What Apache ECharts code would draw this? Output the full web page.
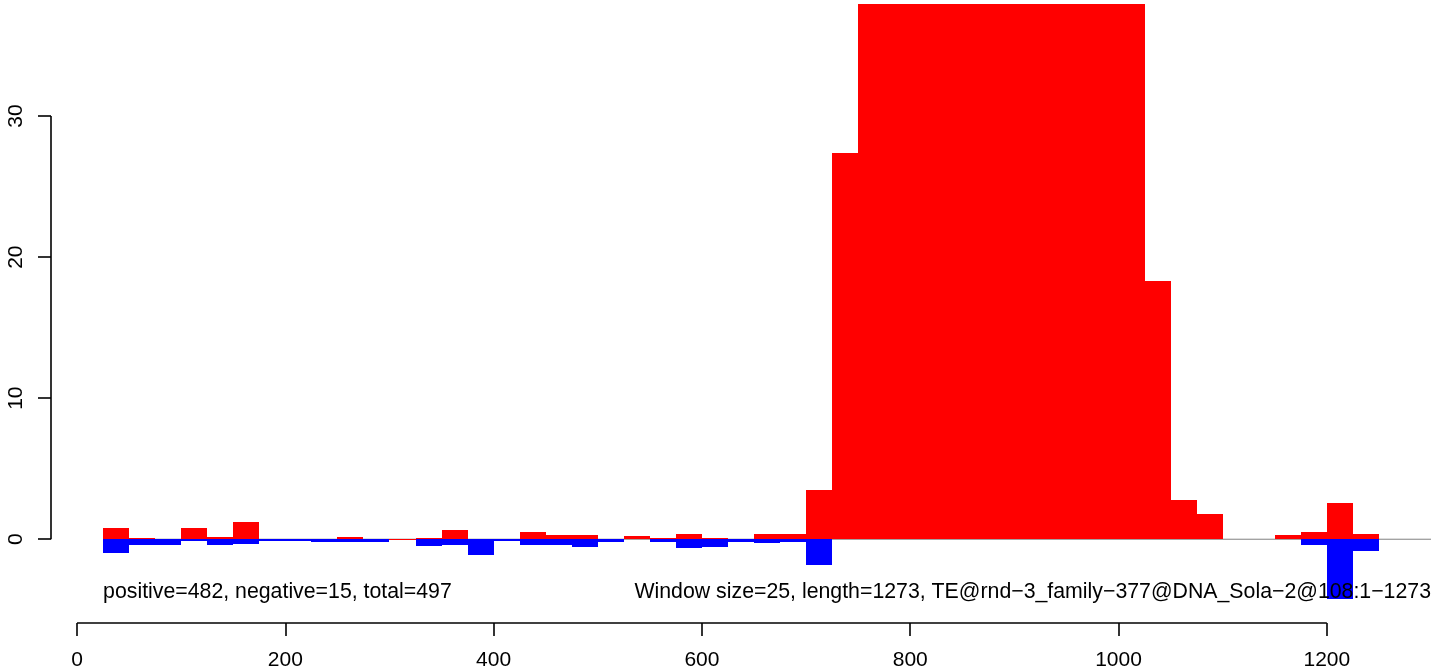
<!DOCTYPE html>
<html><head><meta charset="utf-8">
<script src="https://cdn.jsdelivr.net/npm/echarts@6/dist/echarts.min.js"></script>
<style>html,body{margin:0;padding:0;background:#fff;overflow:hidden}#c{width:1444px;height:671px}</style>
</head><body><div id="c"></div>
<script>
// window start positions (window size = 25)
const windowStarts = [25,50,75,100,125,150,175,200,225,250,275,300,325,350,375,400,425,450,475,500,
  525,550,575,600,625,650,675,700,725,750,775,800,825,850,875,900,925,950,975,1000,
  1025,1050,1075,1100,1125,1150,1175,1200,1225];
// positive-strand coverage (red); values above ~38 are clipped in the picture (estimated)
const positiveValues = [0.8,0.1,0.05,0.8,0.15,1.2,0,0.05,0,0.15,0,0.05,0.08,0.65,0,0.05,
  0.5,0.3,0.3,0,0.2,0.1,0.35,0.1,0,0.35,0.35,3.5,27.4,
  46,55,62,66,70,68,64,59,52,47,42,
  18.3,2.75,1.8,0,0,0.3,0.5,2.55,0.35];
// negative-strand coverage (blue)
const negativeValues = [-1.0,-0.4,-0.4,-0.12,-0.4,-0.33,-0.1,-0.1,-0.2,-0.2,-0.2,0,-0.5,-0.38,-1.1,-0.15,
  -0.4,-0.4,-0.55,-0.2,0,-0.2,-0.6,-0.55,-0.2,-0.25,-0.2,-1.8,0,
  0,0,0,0,0,0,0,0,0,0,0,
  0,0,0,0,0,0,-0.4,-4.25,-0.85];
const xTicks = [0,200,400,600,800,1000,1200];
const yTicks = [0,10,20,30];
const windowSize = 25;
const noteLeft = 'positive=482, negative=15, total=497';
const noteRight = 'Window size=25, length=1273, TE@rnd\u22123_family\u2212377@DNA_Sola\u22122@108:1\u22121273';

const X_MIN = -25, X_MAX = 1300, Y_MIN = -5.94, Y_MAX = 37.95;
const FONT = '"Liberation Sans", Arial, Helvetica, sans-serif';

function barRenderer(color){
  return function(params, api){
    const x0 = api.value(0), v = api.value(1);
    if (!v) return null;
    const p0 = api.coord([x0, 0]), p1 = api.coord([x0 + windowSize, v]);
    const cs = params.coordSys;
    const r = echarts.graphic.clipRectByRect(
      {x: p0[0], y: Math.min(p0[1], p1[1]), width: p1[0] - p0[0], height: Math.abs(p1[1] - p0[1])},
      {x: cs.x, y: cs.y, width: cs.width, height: cs.height});
    if (!r) return null;
    // snap to whole pixels so neighbouring bars meet without seams
    const xl = Math.round(r.x), xr = Math.round(r.x + r.width);
    const yt = Math.round(r.y), yb = Math.max(Math.round(r.y + r.height), yt + 1);
    return {type: 'rect', shape: {x: xl, y: yt, width: xr - xl, height: yb - yt}, style: {fill: color}};
  };
}

const plainLabel = v => String(v);

const chart = echarts.init(document.getElementById('c'), null, {renderer: 'canvas', width: 1444, height: 671});
chart.setOption({
  animation: false,
  backgroundColor: '#ffffff',
  grid: {left: 51, top: 4, width: 1380, height: 621, containLabel: false},
  xAxis: {
    type: 'value', min: X_MIN, max: X_MAX,
    splitLine: {show: false},
    axisLine: {show: false, onZero: false},
    axisTick: {show: true, customValues: xTicks, length: 13, lineStyle: {color: '#000', width: 1.6}},
    axisLabel: {customValues: xTicks, formatter: plainLabel, margin: 27, color: '#000', fontSize: 21, fontFamily: FONT}
  },
  yAxis: {
    type: 'value', min: Y_MIN, max: Y_MAX,
    splitLine: {show: false},
    axisLine: {show: false, onZero: false},
    axisTick: {show: true, customValues: yTicks, length: 13, lineStyle: {color: '#000', width: 1.6}},
    axisLabel: {customValues: yTicks, formatter: plainLabel, rotate: 90, margin: 24, color: '#000', fontSize: 21, fontFamily: FONT}
  },
  series: [
    { // zero reference line
      type: 'custom', z: 1, silent: true,
      data: [[windowStarts[0], X_MAX]],
      renderItem: function(params, api){
        const a = api.coord([api.value(0), 0]), b = api.coord([api.value(1), 0]);
        return {type: 'line', shape: {x1: a[0], y1: a[1], x2: b[0], y2: b[1]}, style: {stroke: '#808080', lineWidth: 1}};
      }
    },
    {type: 'custom', z: 2, silent: true, data: windowStarts.map((s, i) => [s, positiveValues[i]]), renderItem: barRenderer('#FF0000')},
    {type: 'custom', z: 2, silent: true, data: windowStarts.map((s, i) => [s, negativeValues[i]]), renderItem: barRenderer('#0000FF')},
    { // axis lines spanning only the tick range (R style)
      type: 'custom', z: 3, silent: true,
      data: [[0]],
      renderItem: function(params, api){
        const xa = api.coord([xTicks[0], Y_MIN]), xb = api.coord([xTicks[xTicks.length - 1], Y_MIN]);
        const ya = api.coord([X_MIN, yTicks[0]]), yb = api.coord([X_MIN, yTicks[yTicks.length - 1]]);
        return {type: 'group', children: [
          {type: 'line', shape: {x1: xa[0], y1: xa[1], x2: xb[0], y2: xb[1]}, style: {stroke: '#000', lineWidth: 1.6}},
          {type: 'line', shape: {x1: ya[0], y1: ya[1], x2: yb[0], y2: yb[1]}, style: {stroke: '#000', lineWidth: 1.6}}
        ]};
      }
    },
    { // annotation texts
      type: 'custom', z: 4, silent: true,
      data: [[windowStarts[0], -3.72, 0], [X_MAX, -3.72, 1]],
      renderItem: function(params, api){
        const p = api.coord([api.value(0), api.value(1)]);
        const right = api.value(2) === 1;
        return {type: 'text', x: p[0], y: p[1], style: {
          text: right ? noteRight : noteLeft, fill: '#000', fontSize: 21.3, fontFamily: FONT,
          align: right ? 'right' : 'left', verticalAlign: 'middle'}};
      }
    }
  ]
});
</script>
</body></html>
